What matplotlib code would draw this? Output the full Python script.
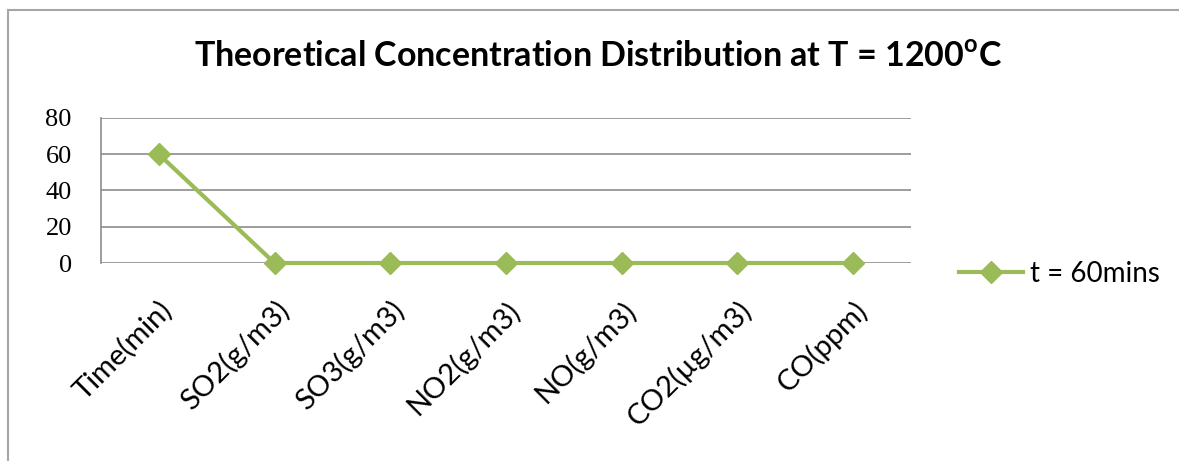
import numpy as np
import matplotlib
matplotlib.use("Agg")
import matplotlib.pyplot as plt
from matplotlib.lines import Line2D

# chart data
categories = ["Time(min)", "SO2(g/m3)", "SO3(g/m3)", "NO2(g/m3)",
              "NO(g/m3)", "CO2(\u00b5g/m3)", "CO(ppm)"]
values_60min = [60, 0, 0, 0, 0, 0, 0]
series_label = "t = 60mins"
y_ticks = [0, 20, 40, 60, 80]

green = "#9bbb59"
grid_grey = "#8c8c8c"
sans = ["Lato", "DejaVu Sans"]
serif = ["Liberation Serif", "DejaVu Serif"]

# superscript "o" in the title drawn with the same sans face
plt.rcParams["mathtext.fontset"] = "custom"
plt.rcParams["mathtext.rm"] = "Lato"
plt.rcParams["mathtext.bf"] = "Lato:bold"

W, H = 1179, 461
fig = plt.figure(figsize=(W / 100, H / 100), dpi=100)

# plot area in pixel terms
left, right, top, bottom = 101, 911, 118, 263
ax = fig.add_axes([left / W, 1 - bottom / H, (right - left) / W, (bottom - top) / H])

x = np.arange(len(categories)) + 0.5
ax.plot(x, values_60min, color=green, lw=3, marker="D", ms=11,
        markeredgecolor=green, label=series_label, zorder=3, clip_on=False)

ax.set_xlim(0, len(categories))
ax.set_ylim(0, 80)
ax.set_yticks(y_ticks)
ax.set_yticklabels([str(v) for v in y_ticks], fontfamily=serif, fontsize=19)
ax.yaxis.grid(True, color=grid_grey, lw=1.2)
ax.set_axisbelow(True)

ax.set_xticks(x)
ax.set_xticklabels(categories, rotation=45, ha="right", va="top",
                   rotation_mode="anchor", fontfamily=sans, fontsize=21)
ax.tick_params(axis="x", length=0, pad=24)
ax.tick_params(axis="y", length=0, pad=21)

for side in ["top", "right", "bottom"]:
    ax.spines[side].set_visible(False)
ax.spines["left"].set_color(grid_grey)
ax.spines["left"].set_linewidth(1.2)

fig.text(598 / W, 1 - 57 / H,
         "Theoretical Concentration Distribution at T = 1200$^{\\mathbf{o}}$C",
         fontfamily=sans, fontsize=24.5, fontweight="bold", ha="center", va="center")

fig.legend(handles=[Line2D([], [], color=green, lw=3, marker="D", ms=11)],
           labels=[series_label], loc="center left",
           bbox_to_anchor=(959 / W, 1 - 274 / H), frameon=False,
           prop={"family": sans, "size": 20}, handlelength=2.3,
           handletextpad=0.25, borderpad=0, borderaxespad=0)

# outer chart border (only top and left edges visible)
fig.add_artist(Line2D([8 / W, 1], [1 - 10 / H, 1 - 10 / H], color="#a6a6a6", lw=1.5))
fig.add_artist(Line2D([8 / W, 8 / W], [0, 1 - 10 / H], color="#a6a6a6", lw=1.5))

fig.savefig("out.png", dpi=100, facecolor="white")
